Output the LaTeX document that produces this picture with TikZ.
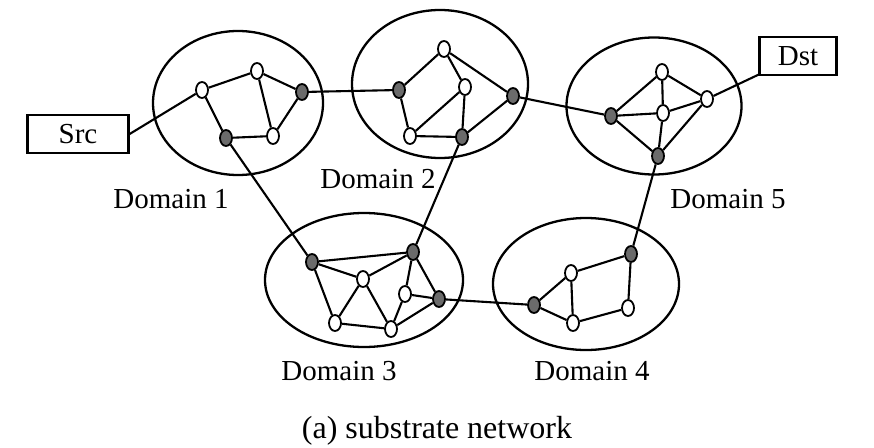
\documentclass[tikz,border=0pt]{standalone}
\usepackage{fontspec}
\setmainfont{Liberation Serif}
\usetikzlibrary{shapes.geometric}
\begin{document}
\begin{tikzpicture}[x=1pt,y=-1pt,
  domainbox/.style={draw, ellipse, inner sep=0pt, line width=2.3pt},
  vw/.style={draw, ellipse, fill=white, inner sep=0pt, minimum width=12pt, minimum height=16pt, line width=1.8pt},
  vg/.style={vw, fill=black!58},
  endbox/.style={draw, rectangle, line width=2.3pt, inner sep=0pt, font=\fontsize{29}{30}\selectfont},
  dlabel/.style={anchor=base, font=\fontsize{29}{30}\selectfont},
  link/.style={line width=2.1pt}]
\useasboundingbox (0,0) rectangle (874,447);

% administrative domains
\node[domainbox, minimum width=170pt, minimum height=144pt] (dom1) at (238,103) {};
\node[domainbox, minimum width=176pt, minimum height=148pt] (dom2) at (440,84) {};
\node[domainbox, minimum width=175pt, minimum height=137pt] (dom5) at (654,106) {};
\node[domainbox, minimum width=198pt, minimum height=134pt] (dom3) at (364,280) {};
\node[domainbox, minimum width=186pt, minimum height=132pt] (dom4) at (586,284) {};

% endpoints
\node[endbox, minimum width=101pt, minimum height=38pt] (src) at (78,134) {Src};
\node[endbox, minimum width=77pt, minimum height=38pt] (dst) at (798,56) {Dst};

% domain 1
\node[vw] (a1) at (202,90) {};
\node[vw] (a2) at (257,71) {};
\node[vg] (a3) at (302,92) {};
\node[vg] (a4) at (226,138) {};
\node[vw] (a5) at (273,136) {};
% domain 2
\node[vg] (b1) at (399,90) {};
\node[vw] (b2) at (444,49) {};
\node[vw] (b3) at (465,87) {};
\node[vg] (b4) at (513,96) {};
\node[vw] (b5) at (410,136) {};
\node[vg] (b6) at (462,137) {};
% domain 3
\node[vg] (c1) at (312,262) {};
\node[vg] (c2) at (413,252) {};
\node[vw] (c3) at (363,279) {};
\node[vw] (c4) at (405,294) {};
\node[vg] (c5) at (439,299) {};
\node[vw] (c6) at (335,323) {};
\node[vw] (c7) at (391,329) {};
% domain 4
\node[vg] (d1) at (534,305) {};
\node[vw] (d2) at (571,273) {};
\node[vw] (d3) at (573,323) {};
\node[vg] (d4) at (631,254) {};
\node[vw] (d5) at (628,308) {};
% domain 5
\node[vw] (e1) at (662,72) {};
\node[vw] (e2) at (707,99) {};
\node[vg] (e3) at (611,116) {};
\node[vw] (e4) at (663,113) {};
\node[vg] (e5) at (658,156) {};

% intra-domain links
\draw[link] (a1) -- (a2) (a2) -- (a3) (a2) -- (a5) (a3) -- (a5) (a4) -- (a5) (a1) -- (a4);
\draw[link] (b1) -- (b2) (b2) -- (b3) (b2) -- (b4) (b3) -- (b5) (b3) -- (b6)
            (b1) -- (b5) (b5) -- (b6) (b6) -- (b4);
\draw[link] (c1) -- (c2) (c1) -- (c3) (c3) -- (c2) (c1) -- (c6) (c3) -- (c6) (c3) -- (c7)
            (c6) -- (c7) (c2) -- (c4) (c2) -- (c5) (c4) -- (c5) (c4) -- (c7) (c7) -- (c5);
\draw[link] (d1) -- (d2) (d1) -- (d3) (d2) -- (d3) (d2) -- (d4) (d4) -- (d5) (d3) -- (d5);
\draw[link] (e1) -- (e3) (e1) -- (e4) (e1) -- (e2) (e3) -- (e4) (e4) -- (e2)
            (e3) -- (e5) (e4) -- (e5) (e2) -- (e5);

% inter-domain links
\draw[link] (src.east) -- (a1);
\draw[link] (a3) -- (b1);
\draw[link] (a4) -- (c1);
\draw[link] (b6) -- (c2);
\draw[link] (b4) -- (e3);
\draw[link] (e2) -- (dst);
\draw[link] (c5) -- (d1);
\draw[link] (d4) -- (e5);

% labels
\node[dlabel] (l1) at (171,208) {Domain 1};
\node[dlabel] (l2) at (378,188) {Domain 2};
\node[dlabel] (l5) at (728,208) {Domain 5};
\node[dlabel] (l3) at (339,380) {Domain 3};
\node[dlabel] (l4) at (592,380) {Domain 4};
\node[anchor=base, font=\fontsize{32}{33}\selectfont] (cap) at (437,438) {(a) substrate network};
\end{tikzpicture}
\end{document}
